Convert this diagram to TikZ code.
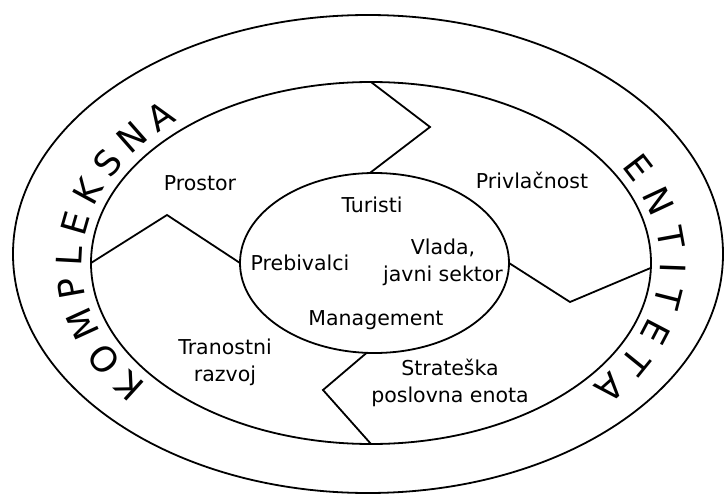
\documentclass[tikz,border=0pt]{standalone}
\usepackage{fontspec}
\setmainfont{DejaVu Sans}
\usetikzlibrary{shapes.geometric,decorations.text}

\begin{document}
\begin{tikzpicture}[x=1pt,y=1pt,line width=1.8pt,
  ring/.style={draw,ellipse,inner sep=0pt,outer sep=0pt},
  lbl/.style={align=center,font=\fontsize{20.5}{27}\selectfont}]
  \useasboundingbox (0,0) rectangle (724,-495);
  % three rings
  \node[ring,minimum width=710pt,minimum height=478pt] (outer) at (368,-254) {};
  \node[ring,minimum width=560pt,minimum height=362pt] (mid) at (371,-263) {};
  \node[ring,minimum width=269pt,minimum height=180pt] (core) at (374.5,-263) {};
  % zigzag borders
  \coordinate (kt) at (430,-127);
  \coordinate (kl) at (167,-215);
  \coordinate (kr) at (570,-302);
  \coordinate (kb) at (323,-390);
  \draw (mid.north) -- (kt) -- (core.93);
  \draw (mid.west) -- (kl) -- (core.west);
  \draw (core.east) -- (kr) -- (mid.359);
  \draw (core.265) -- (kb) -- (mid.south);
  % ring texts
  \path[decorate,decoration={text along path,text align=fit to path,
    text={|\fontsize{35}{35}\selectfont|KOMPLEKSNA}}]
    ([shift={(371,-263)}]219:289 and 192) arc[start angle=219,end angle=132,x radius=289,y radius=192];
  \path[decorate,decoration={text along path,text align=fit to path,
    text={|\fontsize{35}{35}\selectfont|ENTITETA}}]
    ([shift={(371,-263)}]30:289 and 192) arc[start angle=30,end angle=-40,x radius=289,y radius=192];
  % labels
  \node[lbl] (prostor) at (200,-183) {Prostor};
  \node[lbl] (turisti) at (372,-205) {Turisti};
  \node[lbl] (privlacnost) at (532,-180) {Privlačnost};
  \node[lbl] (prebivalci) at (300,-263) {Prebivalci};
  \node[lbl] (vlada) at (443,-262) {Vlada,\\javni sektor};
  \node[lbl] (management) at (376,-320) {Management};
  \node[lbl] (razvoj) at (225,-362) {Tranostni\\razvoj};
  \node[lbl] (sbu) at (450,-383) {Strateška\\poslovna enota};
\end{tikzpicture}
\end{document}
